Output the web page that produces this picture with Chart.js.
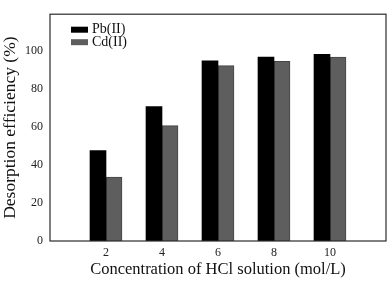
<!DOCTYPE html>
<html>
<head>
<meta charset="utf-8">
<script src="https://cdn.jsdelivr.net/npm/chart.js@4/dist/chart.umd.min.js"></script>
<style>
  html, body { margin: 0; padding: 0; background: #fff; }
  #wrap { width: 392px; height: 282px; }
</style>
</head>
<body>
<div id="wrap"><canvas id="c" width="392" height="282"></canvas></div>
<script>
const categories = [2, 4, 6, 8, 10];
const pbValues = [47.5, 70.5, 94.5, 96.5, 98];
const cdValues = [33.5, 60.5, 92, 94.3, 96.5];
const xTickLabels = [2, 4, 6, 8, 10];
const yTickLabels = [0, 20, 40, 60, 80, 100];
const seriesNames = ['Pb(II)', 'Cd(II)'];

const serif = "'Liberation Serif', 'Times New Roman', serif";

const boxPlugin = {
  id: 'boxPlugin',
  afterDraw(chart) {
    const { ctx, chartArea: a } = chart;
    ctx.save();
    ctx.strokeStyle = '#2a2a2a';
    ctx.lineWidth = 1.2;
    ctx.strokeRect(a.left, a.top, a.right - a.left, a.bottom - a.top);
    // legend inside plot
    ctx.font = '14px ' + serif;
    ctx.textBaseline = 'middle';
    ctx.textAlign = 'left';
    chart.data.datasets.forEach((ds, i) => {
      const y = a.top + 15.5 + i * 12.5;
      ctx.fillStyle = ds.backgroundColor;
      ctx.fillRect(a.left + 21, y - 3, 17, 6);
      ctx.fillStyle = '#111';
      ctx.fillText(ds.label, a.left + 42, y);
    });
    ctx.restore();
  }
};

new Chart(document.getElementById('c'), {
  type: 'bar',
  data: {
    datasets: [
      {
        label: seriesNames[0],
        data: categories.map((c, i) => ({ x: c, y: pbValues[i] })),
        backgroundColor: '#000000',
        borderColor: '#000000',
        borderWidth: 0,
        barThickness: 16
      },
      {
        label: seriesNames[1],
        data: categories.map((c, i) => ({ x: c, y: cdValues[i] })),
        backgroundColor: '#5e5e5e',
        borderColor: '#444444',
        borderWidth: 1,
        barThickness: 16
      }
    ]
  },
  plugins: [boxPlugin],
  options: {
    responsive: false,
    animation: false,
    devicePixelRatio: 1,
    layout: { padding: { top: 2, right: 6, bottom: 0, left: 0 } },
    plugins: {
      legend: { display: false },
      tooltip: { enabled: false }
    },
    scales: {
      x: {
        type: 'linear',
        min: 0,
        max: 12,
        offset: false,
        grid: { display: false, drawTicks: false },
        border: { display: false },
        afterFit(s) { s.height = 41; },
        afterBuildTicks(s) { s.ticks = xTickLabels.map(v => ({ value: v })); },
        ticks: {
          color: '#222',
          padding: 5,
          font: { family: serif, size: 12 },
          maxRotation: 0,
          callback: v => String(v)
        },
        title: {
          display: true,
          text: 'Concentration of HCl solution (mol/L)',
          color: '#111',
          font: { family: serif, size: 16.5 },
          padding: { top: 0, bottom: 2 }
        }
      },
      y: {
        min: 0,
        max: 119,
        grid: { display: false, drawTicks: false },
        border: { display: false },
        afterFit(s) { s.width = 50; },
        afterBuildTicks(s) { s.ticks = yTickLabels.map(v => ({ value: v })); },
        ticks: {
          color: '#222',
          padding: 7,
          font: { family: serif, size: 12 },
          callback: v => String(v)
        },
        title: {
          display: true,
          text: 'Desorption efficiency (%)',
          color: '#111',
          font: { family: serif, size: 17.5 },
          padding: { top: 0, bottom: 0 }
        }
      }
    }
  }
});
</script>
</body>
</html>
